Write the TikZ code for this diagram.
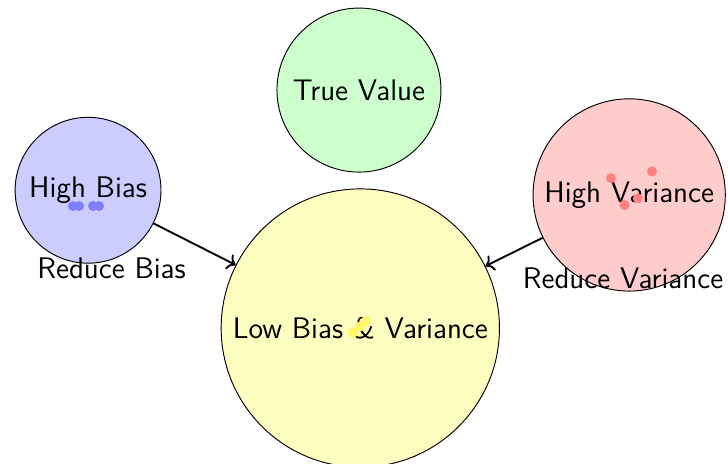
\documentclass[tikz,border=0pt]{standalone}
\usepackage{tikz}
\usetikzlibrary{positioning,arrows.meta}
\tikzset{
  font=\sffamily,
  %% nodes
  blob/.style   = {circle, draw=black, line width=0.4pt, inner sep=2pt,
                   align=center, font=\sffamily\fontsize{12.6}{15}\selectfont},
  %% arrows
  pull/.style   = {->, draw=black, line width=0.8pt},
  %% annotations
  lbl/.style    = {font=\sffamily\fontsize{12.6}{15}\selectfont, text=black},
}

\begin{document}
\begin{tikzpicture}[
  shot/.style = {circle, inner sep=0pt, minimum size=1.5mm},
]
\useasboundingbox (0,0) rectangle (10.83,-6.9);

%% ============ targets ============
\node[blob, fill=green!20,  minimum size=24.4mm] (truth) at (5.34,-1.34) {True Value};
\node[blob, fill=blue!20,   minimum size=21.7mm] (bias)  at (1.31,-2.83) {High Bias};
\node[blob, fill=red!20,    minimum size=28.6mm] (var)   at (9.36,-2.90) {High Variance};
\node[blob, fill=yellow!25, minimum size=41.4mm] (good)  at (5.36,-4.88) {Low Bias \& Variance};

%% ============ shots ============
\foreach \x/\n in {1.086/b1, 1.176/b2, 1.384/b3, 1.473/b4}
  \node[shot, fill=blue!50] (\n) at (\x,-3.065) {};
\node[shot, fill=red!50] (r1) at (9.09,-2.65) {};
\node[shot, fill=red!50] (r2) at (9.70,-2.55) {};
\node[shot, fill=red!50] (r3) at (9.29,-3.05) {};
\node[shot, fill=red!50] (r4) at (9.49,-2.95) {};
\node[shot, fill=yellow!60] (y1) at (5.25,-4.95) {};
\node[shot, fill=yellow!60] (y2) at (5.35,-4.86) {};
\node[shot, fill=yellow!60] (y3) at (5.44,-4.78) {};

%% ============ corrections ============
\draw[pull] (bias) -- node[lbl, left, yshift=-3.6mm]  {Reduce Bias}     (good);
\draw[pull] (var)  -- node[lbl, right, yshift=-3.9mm] {Reduce Variance} (good);

\end{tikzpicture}
\end{document}
